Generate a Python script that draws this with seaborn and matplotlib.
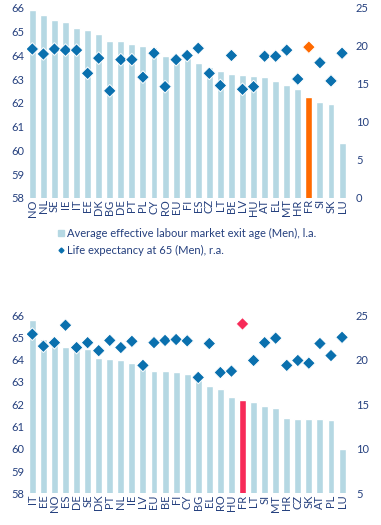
import matplotlib
matplotlib.use("Agg")
import matplotlib.pyplot as plt
from matplotlib.lines import Line2D
import seaborn as sns
import pandas as pd
import numpy as np

# ---- data: top panel (Men) ----
top_countries = ["NO", "NL", "SE", "IE", "IT", "EE", "DK", "BG", "DE", "PT", "PL", "CY", "RO", "EU",
                 "FI", "ES", "CZ", "LT", "BE", "LV", "HU", "AT", "EL", "MT", "HR", "FR", "SI", "SK", "LU"]
top_exit_age = [65.92, 65.71, 65.49, 65.41, 65.16, 65.07, 64.90, 64.61, 64.61, 64.48, 64.40, 64.36, 63.98, 63.95,
                63.90, 63.70, 63.52, 63.35, 63.24, 63.18, 63.14, 63.09, 62.94, 62.76, 62.59, 62.27, 62.05, 61.96, 60.33]
top_life_exp = [19.6, 18.95, 19.6, 19.45, 19.45, 16.4, 18.4, 14.1, 18.2, 18.2, 15.9, 19.05, 14.65, 18.2,
                18.75, 19.7, 16.4, 14.8, 18.75, 14.3, 14.65, 18.65, 18.65, 19.45, 15.65, 19.85, 17.8, 15.4, 19.05]

# ---- data: bottom panel ----
bot_countries = ["IT", "EE", "NO", "ES", "DE", "SE", "DK", "PT", "NL", "IE", "LV", "EU", "BE", "FI", "CY",
                 "BG", "EL", "RO", "HU", "FR", "LT", "SI", "MT", "HR", "CZ", "SK", "AT", "PL", "LU"]
bot_exit_age = [65.77, 64.92, 64.87, 64.56, 64.56, 64.48, 64.07, 64.03, 63.98, 63.84, 63.76, 63.48, 63.48, 63.44, 63.35,
                63.10, 62.82, 62.68, 62.32, 62.18, 62.10, 61.92, 61.83, 61.38, 61.33, 61.33, 61.33, 61.29, 60.00]
bot_life_exp = [22.85, 21.5, 21.9, 23.85, 21.35, 21.9, 21.0, 22.15, 21.35, 22.05, 19.35, 21.9, 22.15, 22.25, 22.1,
                18.0, 21.8, 18.55, 18.7, 24.0, 19.9, 21.9, 22.4, 19.35, 19.9, 19.6, 21.8, 20.45, 22.5]

legend_labels = ["Average effective labour market exit age (Men), l.a.",
                 "Life expectancy at 65 (Men), r.a."]

BAR = "#b5d8e3"
DIA = "#0a70ae"
TXT = "#25407e"

sns.set_theme(style="white")
plt.rcParams["font.family"] = ["Lato", "DejaVu Sans"]

fig = plt.figure(figsize=(3.81, 5.25), dpi=100)


def panel(rect, countries, ages, life, hl_color, rlim, rticks):
    ax = fig.add_axes(rect)
    df = pd.DataFrame({"country": countries, "age": ages, "life": life})
    bar_pal = {c: (hl_color if c == "FR" else BAR) for c in countries}
    sns.barplot(data=df, x="country", y="age", hue="country", palette=bar_pal,
                legend=False, width=0.63, ax=ax, saturation=1, bottom=0)
    ax.set_ylim(58, 66)
    ax.set_xlim(-0.5, len(countries) - 0.5)
    ax.set_yticks(range(58, 67))
    ax.set_xlabel("")
    ax.set_ylabel("")
    ax.tick_params(axis="x", rotation=90, length=0, pad=1, labelsize=8, labelcolor=TXT)
    ax.tick_params(axis="y", length=0, pad=2, labelsize=8, labelcolor=TXT)
    for s in ax.spines.values():
        s.set_visible(False)

    ax2 = ax.twinx()
    dot_pal = {c: (hl_color if c == "FR" else DIA) for c in countries}
    sns.scatterplot(data=df, x="country", y="life", hue="country", palette=dot_pal,
                    legend=False, marker="D", s=42, edgecolor="white", linewidth=0.7, ax=ax2, zorder=3)
    ax2.set_ylim(*rlim)
    ax2.set_yticks(rticks)
    ax2.set_ylabel("")
    ax2.tick_params(axis="y", length=0, pad=6, labelsize=8, labelcolor=TXT)
    for s in ax2.spines.values():
        s.set_visible(False)
    ax.set_xlim(-0.5, len(countries) - 0.5)
    return ax, ax2


panel([0.0703, 0.6229, 0.842, 0.3619], top_countries, top_exit_age, top_life_exp,
      "#ff6a00", (0, 25), range(0, 26, 5))
panel([0.0703, 0.0604, 0.842, 0.3396], bot_countries, bot_exit_age, bot_life_exp,
      "#f72a58", (5, 25), range(5, 26, 5))

handles = [Line2D([], [], marker="s", color=BAR, linestyle="none", markersize=4.5),
           Line2D([], [], marker="D", color=DIA, linestyle="none", markersize=2.5)]
fig.legend(handles, legend_labels, loc="upper left", bbox_to_anchor=(0.152, 1 - 228 / 525),
           frameon=False, fontsize=8, labelcolor=TXT, handlelength=0.5, handletextpad=0.3,
           labelspacing=0.5, borderaxespad=0, borderpad=0)

fig.savefig("out.png", dpi=100)
